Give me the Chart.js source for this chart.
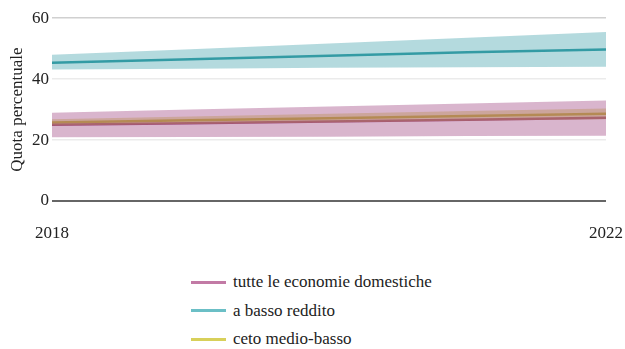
<!DOCTYPE html>
<html>
<head>
<meta charset="utf-8">
<script src="https://cdn.jsdelivr.net/npm/chart.js@4.4.0/dist/chart.umd.min.js"></script>
<style>
  body { margin: 0; background: #fff; font-family: "Liberation Serif", "DejaVu Serif", serif; }
  #wrap { position: relative; width: 625px; height: 349px; }
  #chartBox { position: absolute; left: 0; top: 5px; width: 625px; height: 250px; }
  #legend { position: absolute; left: 191px; top: 268px; }
  .item { height: 28.5px; display: flex; align-items: center; font-size: 17px; color: #222; }
  .swatch { width: 35px; height: 3px; margin-right: 7px; }
</style>
</head>
<body>
<div id="wrap">
  <div id="chartBox"><canvas id="myCanvas" width="625" height="250"></canvas></div>
  <div id="legend"></div>
</div>
<script>
// anni
const years = [2018, 2019, 2020, 2021, 2022];

// tutte le economie domestiche
const tutteVal = [25.0, 25.5, 26.1, 26.7, 27.3];
const tutteHi = [29.0, 30.0, 31.0, 32.0, 33.0];
const tutteLo = [20.9, 21.0, 21.1, 21.3, 21.4];

// a basso reddito
const bassoVal = [45.4, 46.5, 47.7, 48.8, 49.7];
const bassoHi = [48.0, 49.8, 51.7, 53.6, 55.5];
const bassoLo = [43.2, 43.4, 43.7, 43.9, 44.1];

// ceto medio-basso
const medioVal = [25.8, 26.5, 27.2, 27.9, 28.6];
const medioHi = [26.8, 27.7, 28.6, 29.5, 30.4];
const medioLo = [24.8, 25.3, 25.8, 26.3, 26.8];

const yTicks = [0, 20, 40, 60];
const xTicks = [2018, 2022];

const series = [
  { name: 'tutte le economie domestiche', val: tutteVal, hi: tutteHi, lo: tutteLo,
    line: '#a04b7d', band: 'rgba(160,70,130,0.4)', key: '#c27aa5' },
  { name: 'a basso reddito', val: bassoVal, hi: bassoHi, lo: bassoLo,
    line: '#3a9ea6', band: 'rgba(40,150,160,0.35)', key: '#6bbfc6' },
  { name: 'ceto medio-basso', val: medioVal, hi: medioHi, lo: medioLo,
    line: '#bdb43a', band: 'rgba(200,190,50,0.4)', key: '#d8d05a' },
];

const pts = arr => arr.map((v, i) => ({ x: years[i], y: v }));

const datasets = [];
series.forEach(s => {
  datasets.push({ data: pts(s.hi), borderWidth: 0, pointRadius: 0, fill: '+1', backgroundColor: s.band });
  datasets.push({ data: pts(s.lo), borderWidth: 0, pointRadius: 0, fill: false });
});
series.forEach(s => {
  datasets.push({ label: s.name, data: pts(s.val), borderColor: s.line, borderWidth: 2.5, pointRadius: 0, fill: false });
});

const font = { family: '"Liberation Serif", "DejaVu Serif", serif', size: 17 };

new Chart(document.getElementById('myCanvas'), {
  type: 'line',
  data: { datasets },
  options: {
    responsive: false,
    animation: false,
    layout: { padding: { top: 7, right: 19 } },
    plugins: { legend: { display: false }, tooltip: { enabled: false } },
    scales: {
      x: {
        type: 'linear', min: 2018, max: 2022,
        afterBuildTicks: sc => { sc.ticks = xTicks.map(v => ({ value: v })); },
        afterFit: sc => { sc.height = 54; sc.paddingRight = 0; sc.paddingLeft = 0; },
        grid: { display: false },
        border: { display: false },
        ticks: { font, color: '#222', padding: 14, maxRotation: 0, callback: v => String(v) }
      },
      y: {
        min: 0, max: 60,
        afterBuildTicks: sc => { sc.ticks = yTicks.map(v => ({ value: v })); },
        afterFit: sc => { sc.width = 52; },
        border: { display: false },
        grid: {
          color: c => c.tick && c.tick.value === 0 ? '#666' : (c.tick && c.tick.value === 60 ? '#d0d0d0' : '#ebebeb'),
          lineWidth: c => c.tick && c.tick.value === 0 ? 2 : 1.5,
          drawTicks: false
        },
        ticks: { font, color: '#222', padding: 3 },
        title: { display: true, text: 'Quota percentuale', font, color: '#222', padding: { top: 7, bottom: 0 } }
      }
    }
  }
});

const leg = document.getElementById('legend');
series.forEach(s => {
  const row = document.createElement('div');
  row.className = 'item';
  const sw = document.createElement('span');
  sw.className = 'swatch';
  sw.style.background = s.key;
  row.appendChild(sw);
  row.appendChild(document.createTextNode(s.name));
  leg.appendChild(row);
});
</script>
</body>
</html>
